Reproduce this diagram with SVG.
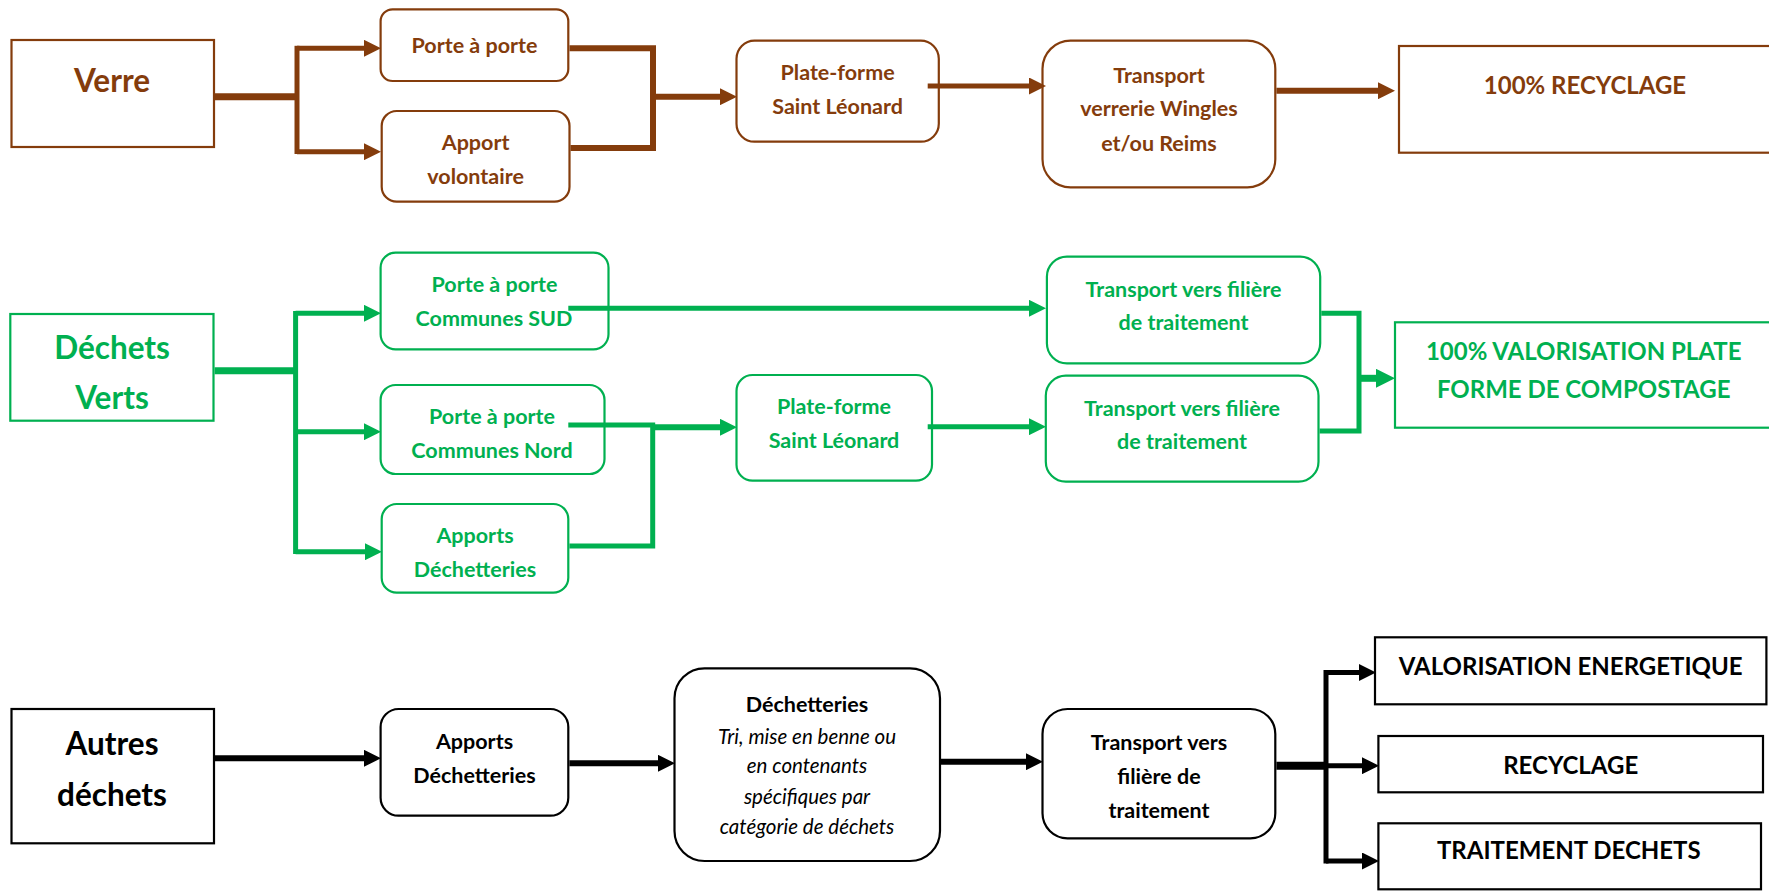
<svg xmlns="http://www.w3.org/2000/svg" width="1769" height="891" viewBox="0 0 1769 891">
<style>
.t{font-family:Lato,"Open Sans","Liberation Sans",sans-serif;font-weight:bold;text-anchor:middle}
.m{font-size:21.5px}
.b{font-size:31.5px}
.c{font-size:24px}
.i{font-family:Lato,"Open Sans","Liberation Sans",sans-serif;font-style:italic;font-size:20.5px;text-anchor:middle;fill:#000}
.br{fill:#843C0C}.gr{fill:#00B050}.bk{fill:#000}
.nb{fill:#fff;stroke:#843C0C;stroke-width:2.2}
.ng{fill:#fff;stroke:#00B050;stroke-width:2.2}
.nk{fill:#fff;stroke:#000;stroke-width:2.2}
.lb{fill:none;stroke:#843C0C;stroke-linejoin:miter}
.lg{fill:none;stroke:#00B050;stroke-linejoin:miter}
.lk{fill:none;stroke:#000;stroke-linejoin:miter}
</style>
<defs>
<marker id="ab" markerUnits="userSpaceOnUse" markerWidth="17" markerHeight="17" refX="0" refY="8.5" orient="auto"><path d="M0,0 L17,8.5 L0,17 Z" fill="#843C0C"/></marker>
<marker id="ag" markerUnits="userSpaceOnUse" markerWidth="17" markerHeight="17" refX="0" refY="8.5" orient="auto"><path d="M0,0 L17,8.5 L0,17 Z" fill="#00B050"/></marker>
<marker id="ag2" markerUnits="userSpaceOnUse" markerWidth="19" markerHeight="19" refX="0" refY="9.5" orient="auto"><path d="M0,0 L19,9.5 L0,19 Z" fill="#00B050"/></marker>
<marker id="ak" markerUnits="userSpaceOnUse" markerWidth="17" markerHeight="17" refX="0" refY="8.5" orient="auto"><path d="M0,0 L17,8.5 L0,17 Z" fill="#000"/></marker>
</defs>
<rect width="1769" height="891" fill="#fff"/>

<!-- Row 1 : Verre -->
<g id="verre"><rect class="nb" x="11.5" y="40" width="202.5" height="107"/><text class="t b br" x="112" y="91.5">Verre</text></g>
<g id="v-porte"><rect class="nb" x="380.6" y="9.3" width="187.7" height="71.7" rx="12"/><text class="t m br" x="474.5" y="52.7">Porte à porte</text></g>
<g id="v-apport"><rect class="nb" x="381.7" y="111" width="187.8" height="90.7" rx="15"/><text class="t m br" x="475.6" y="150.2">Apport</text><text class="t m br" x="475.6" y="183.5">volontaire</text></g>
<g id="v-plateforme"><rect class="nb" x="736.5" y="40.7" width="202.3" height="101" rx="18"/><text class="t m br" x="837.6" y="80.2">Plate-forme</text><text class="t m br" x="837.6" y="113.5">Saint Léonard</text></g>
<g id="v-transport"><rect class="nb" x="1042.5" y="40.7" width="232.8" height="146.6" rx="28"/><text class="t m br" x="1159" y="82.5">Transport</text><text class="t m br" x="1159" y="115.5">verrerie Wingles</text><text class="t m br" x="1159" y="150.5">et/ou Reims</text></g>
<g id="v-recyclage"><rect class="nb" x="1399" y="46" width="380" height="106.7"/><text class="t c br" x="1585" y="93.6">100% RECYCLAGE</text></g>

<!-- Row 2 : Déchets verts -->
<g id="dv"><rect class="ng" x="10.3" y="314" width="203.2" height="106.7"/><text class="t b gr" x="112" y="359">Déchets</text><text class="t b gr" x="112" y="409">Verts</text></g>
<g id="dv-sud"><rect class="ng" x="380.6" y="252.7" width="227.9" height="96.6" rx="15"/><text class="t m gr" x="494.5" y="291.5">Porte à porte</text><text class="t m gr" x="494" y="325.5">Communes SUD</text></g>
<g id="dv-nord"><rect class="ng" x="380.6" y="385" width="223.9" height="89" rx="15"/><text class="t m gr" x="492" y="423.5">Porte à porte</text><text class="t m gr" x="492" y="457.5">Communes Nord</text></g>
<g id="dv-apports"><rect class="ng" x="381.7" y="504" width="186.6" height="88.7" rx="15"/><text class="t m gr" x="475" y="542.5">Apports</text><text class="t m gr" x="475" y="576.5">Déchetteries</text></g>
<g id="dv-plateforme"><rect class="ng" x="736.5" y="375" width="195.5" height="105.7" rx="16"/><text class="t m gr" x="834" y="414.2">Plate-forme</text><text class="t m gr" x="834" y="448.2">Saint Léonard</text></g>
<g id="dv-transport1"><rect class="ng" x="1046.9" y="256.7" width="273.3" height="106.6" rx="20"/><text class="t m gr" x="1183.5" y="296.5">Transport vers filière</text><text class="t m gr" x="1183.5" y="330.2">de traitement</text></g>
<g id="dv-transport2"><rect class="ng" x="1045.8" y="375.7" width="272.7" height="106" rx="20"/><text class="t m gr" x="1182" y="415.5">Transport vers filière</text><text class="t m gr" x="1182" y="449.2">de traitement</text></g>
<g id="dv-valorisation"><rect class="ng" x="1395" y="322.3" width="385" height="105.4"/><text class="t c gr" x="1583.7" y="360.3">100% VALORISATION PLATE</text><text class="t c gr" x="1583.7" y="397.9">FORME DE COMPOSTAGE</text></g>

<!-- Row 3 : Autres déchets -->
<g id="ad"><rect class="nk" x="11.5" y="709" width="202.5" height="134.3"/><text class="t b bk" x="112" y="754.5">Autres</text><text class="t b bk" x="112" y="806">déchets</text></g>
<g id="ad-apports"><rect class="nk" x="380.6" y="709" width="187.7" height="106.7" rx="18"/><text class="t m bk" x="474.5" y="748.5">Apports</text><text class="t m bk" x="474.5" y="782.5">Déchetteries</text></g>
<g id="ad-dechetteries"><rect class="nk" x="674.5" y="668.3" width="265.5" height="192.7" rx="30"/><text class="t m bk" x="807" y="711.5">Déchetteries</text><text class="i" x="807" y="743.5">Tri, mise en benne ou</text><text class="i" x="807" y="773">en contenants</text><text class="i" x="807" y="803.5">spécifiques par</text><text class="i" x="807" y="834">catégorie de déchets</text></g>
<g id="ad-transport"><rect class="nk" x="1042.5" y="709" width="232.8" height="129.3" rx="25"/><text class="t m bk" x="1159" y="750.2">Transport vers</text><text class="t m bk" x="1159" y="784.2">filière de</text><text class="t m bk" x="1159" y="817.5">traitement</text></g>
<g id="ad-energie"><rect class="nk" x="1375" y="637.3" width="391.4" height="67"/><text class="t c bk" x="1570.7" y="675.3">VALORISATION ENERGETIQUE</text></g>
<g id="ad-recyclage"><rect class="nk" x="1378.4" y="736" width="384.6" height="56.3"/><text class="t c bk" x="1570.7" y="774.3">RECYCLAGE</text></g>
<g id="ad-traitement"><rect class="nk" x="1378.4" y="823.3" width="382.6" height="66"/><text class="t c bk" x="1568.8" y="858.6">TRAITEMENT DECHETS</text></g>

<g id="connectors">
<!-- brown -->
<path class="lb" stroke-width="7" d="M214,96.7 H298"/>
<path class="lb" stroke-width="5" d="M297,45.8 V154"/>
<path class="lb" stroke-width="5" d="M297,48.3 H364" marker-end="url(#ab)"/>
<path class="lb" stroke-width="5" d="M297,151.7 H364" marker-end="url(#ab)"/>
<path class="lb" stroke-width="6" d="M569.5,48.3 H653 V148 H570.5"/>
<path class="lb" stroke-width="6" d="M653,96.7 H720" marker-end="url(#ab)"/>
<path class="lb" stroke-width="5" d="M927.7,86 H1029" marker-end="url(#ab)"/>
<path class="lb" stroke-width="6" d="M1276.4,90.7 H1378" marker-end="url(#ab)"/>
<!-- green -->
<path class="lg" stroke-width="7" d="M214.6,370.7 H297"/>
<path class="lg" stroke-width="5" d="M295.6,311 V554"/>
<path class="lg" stroke-width="5" d="M295.6,313.3 H364" marker-end="url(#ag)"/>
<path class="lg" stroke-width="5" d="M295.6,431.7 H364" marker-end="url(#ag)"/>
<path class="lg" stroke-width="5" d="M295.6,551.7 H365" marker-end="url(#ag)"/>
<path class="lg" stroke-width="5" d="M568.3,308.3 H1029" marker-end="url(#ag)"/>
<path class="lg" stroke-width="5" d="M568.3,425 H652.7 V546 H569.4"/>
<path class="lg" stroke-width="6" d="M652.7,427.3 H720" marker-end="url(#ag)"/>
<path class="lg" stroke-width="5" d="M927.7,426.7 H1029" marker-end="url(#ag)"/>
<path class="lg" stroke-width="5" d="M1321.3,313.3 H1359 V431 H1319.6"/>
<path class="lg" stroke-width="7" d="M1359,378.3 H1376" marker-end="url(#ag2)"/>
<!-- black -->
<path class="lk" stroke-width="6" d="M215,758.3 H364" marker-end="url(#ak)"/>
<path class="lk" stroke-width="6" d="M569.4,763.3 H658" marker-end="url(#ak)"/>
<path class="lk" stroke-width="6" d="M941,761.7 H1026" marker-end="url(#ak)"/>
<path class="lk" stroke-width="8" d="M1276.4,765.7 H1328"/>
<path class="lk" stroke-width="5" d="M1326,670 V863.5"/>
<path class="lk" stroke-width="5" d="M1326,672.5 H1359" marker-end="url(#ak)"/>
<path class="lk" stroke-width="5" d="M1326,765.7 H1362" marker-end="url(#ak)"/>
<path class="lk" stroke-width="5" d="M1326,861 H1362" marker-end="url(#ak)"/>
</g>
</svg>
